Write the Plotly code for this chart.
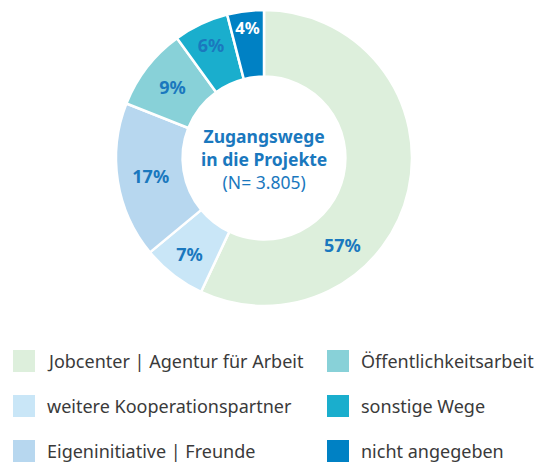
import math
import plotly.graph_objects as go

labels = ["Jobcenter | Agentur für Arbeit", "weitere Kooperationspartner", "Eigeninitiative | Freunde",
          "Öffentlichkeitsarbeit", "sonstige Wege", "nicht angegeben"]
values = [57, 7, 17, 9, 6, 4]
colors = ["#ddefdc", "#c9e6f7", "#b7d7ef", "#88d1d8", "#1aaecd", "#0081c4"]
text_colors = ["#1a78be", "#1a78be", "#1a78be", "#1a78be", "#1a78be", "#ffffff"]

W, H = 541, 464
FONT = "Noto Sans"
LABEL_BLUE = "#1a78be"

# donut geometry (pixels)
CX, CY, R = 264, 158, 148


def px(x):
    return x / W


def py(y):
    return 1 - y / H


fig = go.Figure()
templates = ["" if i == 0 else "<b>%{value}%</b>" for i in range(len(values))]
fig.add_trace(go.Pie(
    labels=labels, values=values, sort=False, direction="clockwise", rotation=0,
    hole=0.55,
    marker=dict(colors=colors, line=dict(color="white", width=2.5)),
    texttemplate=templates, textposition="inside",
    insidetextorientation="horizontal",
    textfont=dict(family=FONT, size=18, color=text_colors),
    showlegend=False, hoverinfo="label+percent",
    domain=dict(x=[px(CX - R), px(CX + R)], y=[py(CY + R), py(CY - R)]),
))

# label of the large slice, placed lower in its slice (as in the original)
ang = math.radians(138)
rr = 117
fig.add_annotation(x=px(CX + rr * math.sin(ang)), y=py(CY - rr * math.cos(ang)),
                   xref="paper", yref="paper", showarrow=False,
                   text="<b>%d%%</b>" % values[0],
                   font=dict(family=FONT, size=18, color=text_colors[0]))

# center text
fig.add_annotation(x=px(CX), y=py(159), xref="paper", yref="paper", showarrow=False,
                   text="<b>Zugangswege</b><br><b>in die Projekte</b><br>(N= 3.805)",
                   font=dict(family=FONT, size=17.5, color=LABEL_BLUE), align="center")

# manual legend in two columns
cols_x = [13, 327]
rows_y = [361, 406, 451]
for i, lab in enumerate(labels):
    c = i // 3
    r = i % 3
    x0 = cols_x[c]
    yc = rows_y[r]
    fig.add_shape(type="rect", xref="paper", yref="paper",
                  x0=px(x0), x1=px(x0 + 22), y0=py(yc + 11), y1=py(yc - 11),
                  fillcolor=colors[i], line=dict(width=0))
    fig.add_annotation(x=px(x0 + 32), y=py(yc), xref="paper", yref="paper",
                       xanchor="left", yanchor="middle", showarrow=False, text=lab,
                       font=dict(family=FONT, size=18, color="#3a3a3a"))

fig.update_layout(width=W, height=H, margin=dict(l=0, r=0, t=0, b=0),
                  paper_bgcolor="white", plot_bgcolor="white")
fig.write_html("out.html", config={"displayModeBar": False},
               post_script="document.body.style.margin='0';")
